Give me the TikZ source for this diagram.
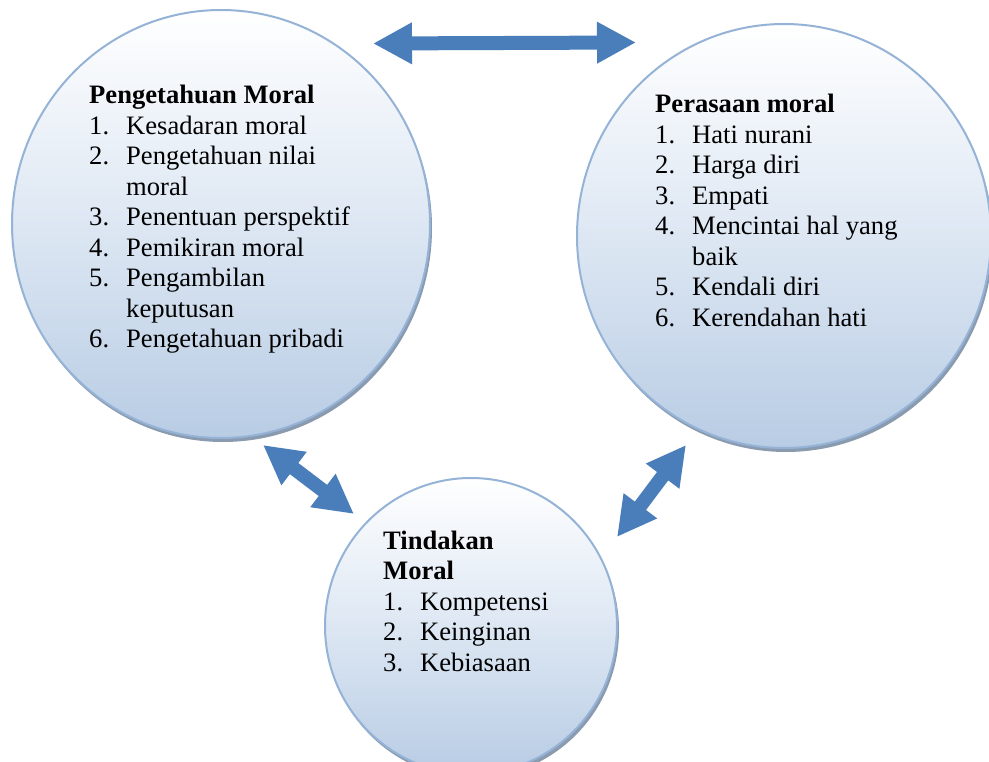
\documentclass[tikz,border=0pt]{standalone}
\usepackage{fontspec}
\setmainfont{Liberation Serif}
\usetikzlibrary{shapes.geometric,arrows.meta}
\definecolor{arrowblue}{HTML}{4A7EBB}
\definecolor{rimblue}{HTML}{95B3D7}
\definecolor{shadowgrey}{HTML}{8A9BB0}
\definecolor{fillbottom}{HTML}{B8CCE4}
\definecolor{fillmid}{HTML}{DDE7F3}
\newcommand{\numcell}[1]{\makebox[37pt][l]{#1}}
\tikzset{
  bubble/.style={ellipse, draw=rimblue, line width=2pt, top color=white,
    bottom color=fillbottom, middle color=fillmid, inner sep=0pt},
  bubbleshadow/.style={ellipse, fill=shadowgrey, draw=none, inner sep=0pt},
  listtext/.style={anchor=base west, inner sep=0pt,
    font=\fontsize{26.6}{30.5}\selectfont},
  biarrow/.style={draw=arrowblue, line width=14pt,
    {Triangle[width=39pt,length=39pt]}-{Triangle[width=39pt,length=39pt]}},
}
\begin{document}
\begin{tikzpicture}[x=1pt,y=-1pt]
\useasboundingbox (0,0) rectangle (989,762);
\clip (0,0) rectangle (989,762);
\fill[white] (0,0) rectangle (989,762);

% left circle
\node[bubbleshadow, minimum width=418pt, minimum height=428pt] (ksh) at (223,228) {};
\node[bubble, minimum width=418pt, minimum height=428pt] (k) at (221,224) {};
% right circle
\node[bubbleshadow, minimum width=414pt, minimum height=424pt] (psh) at (786,240) {};
\node[bubble, minimum width=414pt, minimum height=424pt] (p) at (784,236) {};
% bottom circle
\node[bubbleshadow, minimum width=292pt, minimum height=296pt] (tsh) at (473,630) {};
\node[bubble, minimum width=292pt, minimum height=296pt] (t) at (471,626) {};

\node[listtext] (kt) at (89,104) {\begin{tabular}[t]{@{}l@{}l@{}}
\multicolumn{2}{@{}l@{}}{\textbf{Pengetahuan Moral}}\\
\numcell{1.}&Kesadaran moral\\
\numcell{2.}&Pengetahuan nilai\\
&moral\\
\numcell{3.}&Penentuan perspektif\\
\numcell{4.}&Pemikiran moral\\
\numcell{5.}&Pengambilan\\
&keputusan\\
\numcell{6.}&Pengetahuan pribadi
\end{tabular}};

\node[listtext] (pt) at (655,113) {\begin{tabular}[t]{@{}l@{}l@{}}
\multicolumn{2}{@{}l@{}}{\textbf{Perasaan moral}}\\
\numcell{1.}&Hati nurani\\
\numcell{2.}&Harga diri\\
\numcell{3.}&Empati\\
\numcell{4.}&Mencintai hal yang\\
&baik\\
\numcell{5.}&Kendali diri\\
\numcell{6.}&Kerendahan hati
\end{tabular}};

\node[listtext] (tt) at (383,549) {\begin{tabular}[t]{@{}l@{}l@{}}
\multicolumn{2}{@{}l@{}}{\textbf{Tindakan}}\\
\multicolumn{2}{@{}l@{}}{\textbf{Moral}}\\
\numcell{1.}&Kompetensi\\
\numcell{2.}&Keinginan\\
\numcell{3.}&Kebiasaan
\end{tabular}};

% arrows
\coordinate (a1) at (373,43.5);
\coordinate (a2) at (636,42.5);
\coordinate (b1) at (263,445);
\coordinate (b2) at (354,514);
\coordinate (c1) at (686,445);
\coordinate (c2) at (617,537);
\draw[biarrow] (a1) -- (a2);
\draw[biarrow] (b1) -- (b2);
\draw[biarrow] (c1) -- (c2);
\end{tikzpicture}
\end{document}
